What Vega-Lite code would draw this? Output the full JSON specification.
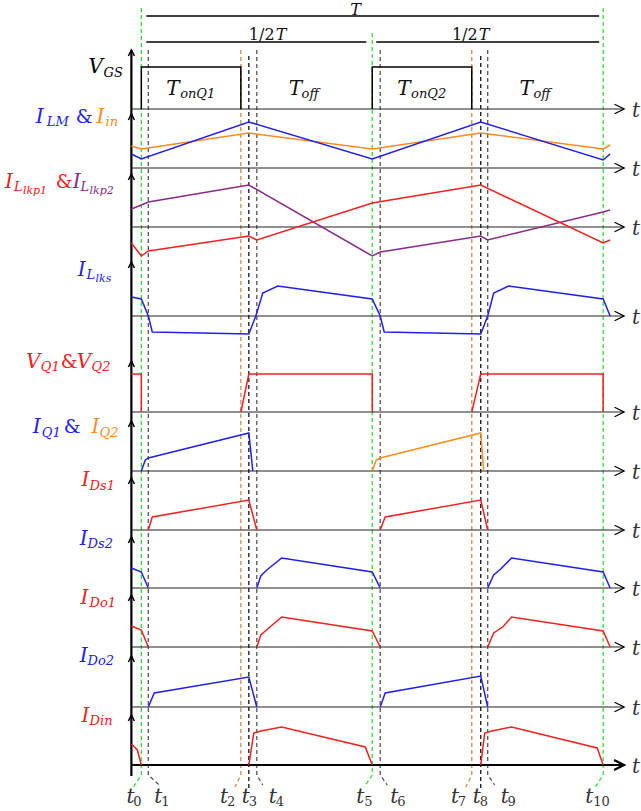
{
  "$schema": "https://vega.github.io/schema/vega-lite/v6.json",
  "width": 641,
  "height": 811,
  "padding": 0,
  "autosize": {"type": "fit", "contains": "padding"},
  "background": "white",
  "config": {"view": {"stroke": null}},
  "datasets": {
    "wave": [
      {"s":"V_GS","seg":"vgs1","i":0,"x":142,"y":109},{"s":"V_GS","seg":"vgs1","i":1,"x":142,"y":67},{"s":"V_GS","seg":"vgs1","i":2,"x":242,"y":67},{"s":"V_GS","seg":"vgs1","i":3,"x":242,"y":109},
      {"s":"V_GS","seg":"vgs2","i":0,"x":374,"y":109},{"s":"V_GS","seg":"vgs2","i":1,"x":374,"y":67},{"s":"V_GS","seg":"vgs2","i":2,"x":474,"y":67},{"s":"V_GS","seg":"vgs2","i":3,"x":474,"y":109},
      {"s":"I_in","seg":"iin","i":0,"x":132,"y":146},{"s":"I_in","seg":"iin","i":1,"x":142,"y":149},{"s":"I_in","seg":"iin","i":2,"x":250,"y":133},{"s":"I_in","seg":"iin","i":3,"x":374,"y":149},{"s":"I_in","seg":"iin","i":4,"x":483,"y":133},{"s":"I_in","seg":"iin","i":5,"x":606,"y":149},{"s":"I_in","seg":"iin","i":6,"x":613,"y":145},
      {"s":"I_LM","seg":"ilm","i":0,"x":132,"y":154},{"s":"I_LM","seg":"ilm","i":1,"x":142,"y":159},{"s":"I_LM","seg":"ilm","i":2,"x":250,"y":122},{"s":"I_LM","seg":"ilm","i":3,"x":374,"y":159},{"s":"I_LM","seg":"ilm","i":4,"x":483,"y":122},{"s":"I_LM","seg":"ilm","i":5,"x":606,"y":160},{"s":"I_LM","seg":"ilm","i":6,"x":613,"y":154},
      {"s":"I_Llkp2","seg":"lkp2","i":0,"x":132,"y":209},{"s":"I_Llkp2","seg":"lkp2","i":1,"x":142,"y":205},{"s":"I_Llkp2","seg":"lkp2","i":2,"x":149,"y":202},{"s":"I_Llkp2","seg":"lkp2","i":3,"x":250,"y":185},{"s":"I_Llkp2","seg":"lkp2","i":4,"x":374,"y":256},{"s":"I_Llkp2","seg":"lkp2","i":5,"x":382,"y":252},{"s":"I_Llkp2","seg":"lkp2","i":6,"x":483,"y":236},{"s":"I_Llkp2","seg":"lkp2","i":7,"x":490,"y":240},{"s":"I_Llkp2","seg":"lkp2","i":8,"x":606,"y":212},{"s":"I_Llkp2","seg":"lkp2","i":9,"x":613,"y":210},
      {"s":"I_Llkp1","seg":"lkp1","i":0,"x":132,"y":243},{"s":"I_Llkp1","seg":"lkp1","i":1,"x":142,"y":256},{"s":"I_Llkp1","seg":"lkp1","i":2,"x":149,"y":251},{"s":"I_Llkp1","seg":"lkp1","i":3,"x":250,"y":236},{"s":"I_Llkp1","seg":"lkp1","i":4,"x":258,"y":240},{"s":"I_Llkp1","seg":"lkp1","i":5,"x":374,"y":203},{"s":"I_Llkp1","seg":"lkp1","i":6,"x":483,"y":185},{"s":"I_Llkp1","seg":"lkp1","i":7,"x":606,"y":243},{"s":"I_Llkp1","seg":"lkp1","i":8,"x":613,"y":240},
      {"s":"I_Llks","seg":"llks","i":0,"x":132,"y":297},{"s":"I_Llks","seg":"llks","i":1,"x":142,"y":299},{"s":"I_Llks","seg":"llks","i":2,"x":149,"y":316},{"s":"I_Llks","seg":"llks","i":3,"x":153,"y":332},{"s":"I_Llks","seg":"llks","i":4,"x":250,"y":334},{"s":"I_Llks","seg":"llks","i":5,"x":257,"y":316},{"s":"I_Llks","seg":"llks","i":6,"x":264,"y":293},{"s":"I_Llks","seg":"llks","i":7,"x":279,"y":286},{"s":"I_Llks","seg":"llks","i":8,"x":374,"y":299},{"s":"I_Llks","seg":"llks","i":9,"x":382,"y":316},{"s":"I_Llks","seg":"llks","i":10,"x":386,"y":332},{"s":"I_Llks","seg":"llks","i":11,"x":483,"y":334},{"s":"I_Llks","seg":"llks","i":12,"x":490,"y":316},{"s":"I_Llks","seg":"llks","i":13,"x":496,"y":293},{"s":"I_Llks","seg":"llks","i":14,"x":511,"y":286},{"s":"I_Llks","seg":"llks","i":15,"x":606,"y":299},{"s":"I_Llks","seg":"llks","i":16,"x":613,"y":316},
      {"s":"V_Q","seg":"vq1","i":0,"x":132,"y":374},{"s":"V_Q","seg":"vq1","i":1,"x":142,"y":374},{"s":"V_Q","seg":"vq1","i":2,"x":142,"y":412},
      {"s":"V_Q","seg":"vq2","i":0,"x":242,"y":412},{"s":"V_Q","seg":"vq2","i":1,"x":250,"y":374},{"s":"V_Q","seg":"vq2","i":2,"x":374,"y":374},{"s":"V_Q","seg":"vq2","i":3,"x":374,"y":412},
      {"s":"V_Q","seg":"vq3","i":0,"x":474,"y":412},{"s":"V_Q","seg":"vq3","i":1,"x":483,"y":374},{"s":"V_Q","seg":"vq3","i":2,"x":606,"y":374},{"s":"V_Q","seg":"vq3","i":3,"x":606,"y":412},
      {"s":"I_Q1","seg":"iq1","i":0,"x":142,"y":471},{"s":"I_Q1","seg":"iq1","i":1,"x":146,"y":460},{"s":"I_Q1","seg":"iq1","i":2,"x":149,"y":458},{"s":"I_Q1","seg":"iq1","i":3,"x":153,"y":457},{"s":"I_Q1","seg":"iq1","i":4,"x":250,"y":433},{"s":"I_Q1","seg":"iq1","i":5,"x":254,"y":471},
      {"s":"I_Q2","seg":"iq2","i":0,"x":374,"y":471},{"s":"I_Q2","seg":"iq2","i":1,"x":378,"y":460},{"s":"I_Q2","seg":"iq2","i":2,"x":382,"y":458},{"s":"I_Q2","seg":"iq2","i":3,"x":386,"y":457},{"s":"I_Q2","seg":"iq2","i":4,"x":483,"y":433},{"s":"I_Q2","seg":"iq2","i":5,"x":486,"y":471},
      {"s":"I_Ds1","seg":"ds1a","i":0,"x":149,"y":530},{"s":"I_Ds1","seg":"ds1a","i":1,"x":153,"y":517},{"s":"I_Ds1","seg":"ds1a","i":2,"x":250,"y":500},{"s":"I_Ds1","seg":"ds1a","i":3,"x":258,"y":530},
      {"s":"I_Ds1","seg":"ds1b","i":0,"x":382,"y":530},{"s":"I_Ds1","seg":"ds1b","i":1,"x":387,"y":517},{"s":"I_Ds1","seg":"ds1b","i":2,"x":483,"y":500},{"s":"I_Ds1","seg":"ds1b","i":3,"x":490,"y":530},
      {"s":"I_Ds2","seg":"ds2a","i":0,"x":132,"y":568},{"s":"I_Ds2","seg":"ds2a","i":1,"x":142,"y":572},{"s":"I_Ds2","seg":"ds2a","i":2,"x":149,"y":588},
      {"s":"I_Ds2","seg":"ds2b","i":0,"x":258,"y":588},{"s":"I_Ds2","seg":"ds2b","i":1,"x":262,"y":576},{"s":"I_Ds2","seg":"ds2b","i":2,"x":268,"y":570},{"s":"I_Ds2","seg":"ds2b","i":3,"x":283,"y":558},{"s":"I_Ds2","seg":"ds2b","i":4,"x":374,"y":572},{"s":"I_Ds2","seg":"ds2b","i":5,"x":382,"y":588},
      {"s":"I_Ds2","seg":"ds2c","i":0,"x":490,"y":588},{"s":"I_Ds2","seg":"ds2c","i":1,"x":496,"y":575},{"s":"I_Ds2","seg":"ds2c","i":2,"x":503,"y":569},{"s":"I_Ds2","seg":"ds2c","i":3,"x":514,"y":558},{"s":"I_Ds2","seg":"ds2c","i":4,"x":606,"y":572},{"s":"I_Ds2","seg":"ds2c","i":5,"x":613,"y":588},
      {"s":"I_Do1","seg":"do1a","i":0,"x":132,"y":626},{"s":"I_Do1","seg":"do1a","i":1,"x":142,"y":630},{"s":"I_Do1","seg":"do1a","i":2,"x":149,"y":647},
      {"s":"I_Do1","seg":"do1b","i":0,"x":258,"y":647},{"s":"I_Do1","seg":"do1b","i":1,"x":262,"y":635},{"s":"I_Do1","seg":"do1b","i":2,"x":270,"y":628},{"s":"I_Do1","seg":"do1b","i":3,"x":283,"y":617},{"s":"I_Do1","seg":"do1b","i":4,"x":374,"y":631},{"s":"I_Do1","seg":"do1b","i":5,"x":382,"y":647},
      {"s":"I_Do1","seg":"do1c","i":0,"x":490,"y":647},{"s":"I_Do1","seg":"do1c","i":1,"x":496,"y":633},{"s":"I_Do1","seg":"do1c","i":2,"x":505,"y":627},{"s":"I_Do1","seg":"do1c","i":3,"x":514,"y":617},{"s":"I_Do1","seg":"do1c","i":4,"x":606,"y":631},{"s":"I_Do1","seg":"do1c","i":5,"x":613,"y":647},
      {"s":"I_Do2","seg":"do2a","i":0,"x":149,"y":707},{"s":"I_Do2","seg":"do2a","i":1,"x":155,"y":693},{"s":"I_Do2","seg":"do2a","i":2,"x":250,"y":677},{"s":"I_Do2","seg":"do2a","i":3,"x":258,"y":707},
      {"s":"I_Do2","seg":"do2b","i":0,"x":382,"y":707},{"s":"I_Do2","seg":"do2b","i":1,"x":387,"y":693},{"s":"I_Do2","seg":"do2b","i":2,"x":483,"y":676},{"s":"I_Do2","seg":"do2b","i":3,"x":490,"y":707},
      {"s":"I_Din","seg":"dina","i":0,"x":132,"y":744},{"s":"I_Din","seg":"dina","i":1,"x":138,"y":750},{"s":"I_Din","seg":"dina","i":2,"x":142,"y":765},
      {"s":"I_Din","seg":"dinb","i":0,"x":250,"y":765},{"s":"I_Din","seg":"dinb","i":1,"x":255,"y":733},{"s":"I_Din","seg":"dinb","i":2,"x":262,"y":731},{"s":"I_Din","seg":"dinb","i":3,"x":283,"y":727},{"s":"I_Din","seg":"dinb","i":4,"x":367,"y":747},{"s":"I_Din","seg":"dinb","i":5,"x":374,"y":765},
      {"s":"I_Din","seg":"dinc","i":0,"x":483,"y":765},{"s":"I_Din","seg":"dinc","i":1,"x":487,"y":733},{"s":"I_Din","seg":"dinc","i":2,"x":494,"y":731},{"s":"I_Din","seg":"dinc","i":3,"x":514,"y":727},{"s":"I_Din","seg":"dinc","i":4,"x":600,"y":748},{"s":"I_Din","seg":"dinc","i":5,"x":606,"y":765}
    ],
    "markers": [
      {"name":"t0","kind":"m_green","i":0,"x":142,"y":8},{"name":"t0","kind":"m_green","i":1,"x":142,"y":775},{"name":"t0","kind":"m_green","i":2,"x":134,"y":787},
      {"name":"t1","kind":"m_gray","i":0,"x":149,"y":50},{"name":"t1","kind":"m_gray","i":1,"x":149,"y":775},{"name":"t1","kind":"m_gray","i":2,"x":160,"y":785},
      {"name":"t2","kind":"m_orange","i":0,"x":242,"y":50},{"name":"t2","kind":"m_orange","i":1,"x":242,"y":775},{"name":"t2","kind":"m_orange","i":2,"x":236,"y":787},
      {"name":"t3","kind":"m_black","i":0,"x":250,"y":56},{"name":"t3","kind":"m_black","i":1,"x":250,"y":790},
      {"name":"t4","kind":"m_gray","i":0,"x":258,"y":50},{"name":"t4","kind":"m_gray","i":1,"x":258,"y":775},{"name":"t4","kind":"m_gray","i":2,"x":264,"y":785},
      {"name":"t5","kind":"m_green","i":0,"x":374,"y":33},{"name":"t5","kind":"m_green","i":1,"x":374,"y":775},{"name":"t5","kind":"m_green","i":2,"x":366,"y":787},
      {"name":"t6","kind":"m_gray","i":0,"x":382,"y":50},{"name":"t6","kind":"m_gray","i":1,"x":382,"y":775},{"name":"t6","kind":"m_gray","i":2,"x":389,"y":785},
      {"name":"t7","kind":"m_orange","i":0,"x":474,"y":50},{"name":"t7","kind":"m_orange","i":1,"x":474,"y":775},{"name":"t7","kind":"m_orange","i":2,"x":468,"y":787},
      {"name":"t8","kind":"m_black","i":0,"x":483,"y":56},{"name":"t8","kind":"m_black","i":1,"x":483,"y":790},
      {"name":"t9","kind":"m_gray","i":0,"x":490,"y":50},{"name":"t9","kind":"m_gray","i":1,"x":490,"y":775},{"name":"t9","kind":"m_gray","i":2,"x":497,"y":785},
      {"name":"t10","kind":"m_green","i":0,"x":606,"y":8},{"name":"t10","kind":"m_green","i":1,"x":606,"y":775},{"name":"t10","kind":"m_green","i":2,"x":598,"y":787}
    ],
    "baselines": [
      {"y":109,"x":132,"x2":627},{"y":168,"x":132,"x2":627},{"y":227,"x":132,"x2":627},{"y":316,"x":132,"x2":627},{"y":412,"x":132,"x2":627},{"y":471,"x":132,"x2":627},{"y":530,"x":132,"x2":627},{"y":588,"x":132,"x2":627},{"y":647,"x":132,"x2":627},{"y":707,"x":132,"x2":627}
    ],
    "bottom": [{"y":765,"x":132,"x2":627}],
    "vaxis": [{"x":132,"y":50,"y2":776}],
    "vtips": [
      {"x":132,"y":50},{"x":132,"y":114},{"x":132,"y":174},{"x":132,"y":262},{"x":132,"y":361},{"x":132,"y":421},{"x":132,"y":478},{"x":132,"y":537},{"x":132,"y":595},{"x":132,"y":656},{"x":132,"y":715}
    ],
    "periods": [
      {"x":147,"x2":602,"y":16},{"x":147,"x2":368,"y":42},{"x":378,"x2":602,"y":42}
    ],
    "italic": [
      {"txt":"V","x":89,"y":73,"s":"V_GS","k":"main"},{"txt":"GS","x":104,"y":77,"s":"V_GS","k":"sub"},
      {"txt":"I","x":36,"y":123,"s":"I_LM","k":"main"},{"txt":"LM","x":47,"y":126,"s":"I_LM","k":"sub"},{"txt":"I","x":97,"y":123,"s":"I_in","k":"main"},{"txt":"in","x":106,"y":126,"s":"I_in","k":"sub"},
      {"txt":"I","x":5,"y":188,"s":"I_Llkp1","k":"main"},{"txt":"L","x":14,"y":191,"s":"I_Llkp1","k":"sub"},{"txt":"lkp1","x":23,"y":194,"s":"I_Llkp1","k":"subsub"},
      {"txt":"I","x":73,"y":188,"s":"I_Llkp2","k":"main"},{"txt":"L","x":81,"y":191,"s":"I_Llkp2","k":"sub"},{"txt":"lkp2","x":90,"y":194,"s":"I_Llkp2","k":"subsub"},
      {"txt":"I","x":78,"y":276,"s":"I_Llks","k":"main"},{"txt":"L","x":87,"y":279,"s":"I_Llks","k":"sub"},{"txt":"lks","x":96,"y":282,"s":"I_Llks","k":"subsub"},
      {"txt":"V","x":26,"y":368,"s":"V_Q","k":"main"},{"txt":"Q1","x":41,"y":371,"s":"V_Q","k":"sub"},{"txt":"V","x":77,"y":368,"s":"V_Q","k":"main"},{"txt":"Q2","x":92,"y":371,"s":"V_Q","k":"sub"},
      {"txt":"I","x":33,"y":433,"s":"I_Q1","k":"main"},{"txt":"Q1","x":42,"y":437,"s":"I_Q1","k":"sub"},{"txt":"I","x":92,"y":433,"s":"I_Q2","k":"main"},{"txt":"Q2","x":100,"y":437,"s":"I_Q2","k":"sub"},
      {"txt":"I","x":82,"y":486,"s":"I_Ds1","k":"main"},{"txt":"Ds1","x":90,"y":490,"s":"I_Ds1","k":"sub"},
      {"txt":"I","x":80,"y":545,"s":"I_Ds2","k":"main"},{"txt":"Ds2","x":88,"y":548,"s":"I_Ds2","k":"sub"},
      {"txt":"I","x":81,"y":604,"s":"I_Do1","k":"main"},{"txt":"Do1","x":90,"y":607,"s":"I_Do1","k":"sub"},
      {"txt":"I","x":80,"y":662,"s":"I_Do2","k":"main"},{"txt":"Do2","x":88,"y":665,"s":"I_Do2","k":"sub"},
      {"txt":"I","x":82,"y":722,"s":"I_Din","k":"main"},{"txt":"Din","x":90,"y":725,"s":"I_Din","k":"sub"},
      {"txt":"T","x":167,"y":95,"s":"axis","k":"main"},{"txt":"onQ1","x":181,"y":98,"s":"axis","k":"sub"},
      {"txt":"T","x":290,"y":95,"s":"axis","k":"main"},{"txt":"off","x":303,"y":98,"s":"axis","k":"sub"},
      {"txt":"T","x":399,"y":95,"s":"axis","k":"main"},{"txt":"onQ2","x":413,"y":98,"s":"axis","k":"sub"},
      {"txt":"T","x":522,"y":95,"s":"axis","k":"main"},{"txt":"off","x":536,"y":98,"s":"axis","k":"sub"},
      {"txt":"T","x":352,"y":15,"s":"axis","k":"top"},{"txt":"T","x":277,"y":40,"s":"axis","k":"top"},{"txt":"T","x":481,"y":40,"s":"axis","k":"top"},
      {"txt":"t","x":127,"y":803,"s":"tlabel","k":"main"},{"txt":"t","x":155,"y":803,"s":"tlabel","k":"main"},{"txt":"t","x":221,"y":803,"s":"tlabel","k":"main"},{"txt":"t","x":243,"y":803,"s":"tlabel","k":"main"},{"txt":"t","x":270,"y":803,"s":"tlabel","k":"main"},{"txt":"t","x":358,"y":803,"s":"tlabel","k":"main"},{"txt":"t","x":392,"y":803,"s":"tlabel","k":"main"},{"txt":"t","x":453,"y":803,"s":"tlabel","k":"main"},{"txt":"t","x":475,"y":803,"s":"tlabel","k":"main"},{"txt":"t","x":503,"y":803,"s":"tlabel","k":"main"},{"txt":"t","x":588,"y":803,"s":"tlabel","k":"main"},
      {"txt":"t","x":635,"y":117,"s":"tlabel","k":"main"},{"txt":"t","x":635,"y":176,"s":"tlabel","k":"main"},{"txt":"t","x":635,"y":235,"s":"tlabel","k":"main"},{"txt":"t","x":635,"y":324,"s":"tlabel","k":"main"},{"txt":"t","x":635,"y":420,"s":"tlabel","k":"main"},{"txt":"t","x":635,"y":479,"s":"tlabel","k":"main"},{"txt":"t","x":635,"y":538,"s":"tlabel","k":"main"},{"txt":"t","x":635,"y":596,"s":"tlabel","k":"main"},{"txt":"t","x":635,"y":655,"s":"tlabel","k":"main"},{"txt":"t","x":635,"y":715,"s":"tlabel","k":"main"},{"txt":"t","x":635,"y":773,"s":"tlabel","k":"main"}
    ],
    "upright": [
      {"txt":"&","x":76,"y":123,"s":"I_LM","k":"main"},
      {"txt":"&","x":56,"y":188,"s":"I_Llkp1","k":"main"},
      {"txt":"&","x":61,"y":368,"s":"V_Q","k":"main"},
      {"txt":"&","x":64,"y":433,"s":"I_Q1","k":"main"},
      {"txt":"1/2","x":250,"y":40,"s":"axis","k":"top"},{"txt":"1/2","x":454,"y":40,"s":"axis","k":"top"},
      {"txt":"0","x":134,"y":806,"s":"tlabel","k":"sub"},{"txt":"1","x":162,"y":806,"s":"tlabel","k":"sub"},{"txt":"2","x":228,"y":806,"s":"tlabel","k":"sub"},{"txt":"3","x":250,"y":806,"s":"tlabel","k":"sub"},{"txt":"4","x":277,"y":806,"s":"tlabel","k":"sub"},{"txt":"5","x":366,"y":806,"s":"tlabel","k":"sub"},{"txt":"6","x":399,"y":806,"s":"tlabel","k":"sub"},{"txt":"7","x":460,"y":806,"s":"tlabel","k":"sub"},{"txt":"8","x":482,"y":806,"s":"tlabel","k":"sub"},{"txt":"9","x":510,"y":806,"s":"tlabel","k":"sub"},{"txt":"10","x":596,"y":806,"s":"tlabel","k":"sub"}
    ]
  },
  "encoding": {
    "x": {"field": "x", "type": "quantitative", "scale": {"domain": [0, 641], "nice": false, "zero": false}, "axis": null},
    "y": {"field": "y", "type": "quantitative", "scale": {"domain": [811, 0], "nice": false, "zero": false}, "axis": null},
    "color": {"field": "s", "type": "nominal", "legend": null, "scale": {"domain": ["V_GS", "I_LM", "I_in", "I_Llkp1", "I_Llkp2", "I_Llks", "V_Q", "I_Q1", "I_Q2", "I_Ds1", "I_Ds2", "I_Do1", "I_Do2", "I_Din", "axis", "tlabel"], "range": ["#000000", "#2020ee", "#ff8a1e", "#f42020", "#8a2a8a", "#2020ee", "#f42020", "#2020ee", "#ff8a1e", "#f42020", "#2020ee", "#f42020", "#2020ee", "#f42020", "#111111", "#333333"]}}
  },
  "layer": [
    {
      "data": {"name": "markers"},
      "mark": {"type": "line", "strokeDash": [4, 3], "interpolate": "linear"},
      "encoding": {
        "color": null,
        "detail": {"field": "name"},
        "order": {"field": "i", "type": "quantitative"},
        "stroke": {"field": "kind", "type": "nominal", "legend": null, "scale": {"domain": ["m_green", "m_orange", "m_black", "m_gray"], "range": ["#33dd33", "#cc8a4c", "#111111", "#555555"]}},
        "strokeWidth": {"field": "kind", "type": "nominal", "legend": null, "scale": {"domain": ["m_green", "m_orange", "m_black", "m_gray"], "range": [1.3, 1.3, 1.8, 1.1]}}
      }
    },
    {
      "data": {"name": "periods"},
      "mark": {"type": "rule", "color": "black", "strokeWidth": 1.6},
      "encoding": {"color": null, "x2": {"field": "x2"}}
    },
    {
      "data": {"name": "baselines"},
      "mark": {"type": "rule", "color": "#222222", "strokeWidth": 1.2},
      "encoding": {"color": null, "x2": {"field": "x2"}}
    },
    {
      "data": {"name": "bottom"},
      "mark": {"type": "rule", "color": "black", "strokeWidth": 2.2},
      "encoding": {"color": null, "x2": {"field": "x2"}}
    },
    {
      "data": {"name": "baselines"},
      "mark": {"type": "point", "shape": "M -2 -1 L 0 0 L -2 1", "filled": false, "size": 90, "color": "black", "strokeWidth": 1.3, "opacity": 1},
      "encoding": {"color": null, "x": {"field": "x2", "type": "quantitative"}}
    },
    {
      "data": {"name": "bottom"},
      "mark": {"type": "point", "shape": "M -2 -1 L 0 0 L -2 1", "filled": false, "size": 100, "color": "black", "strokeWidth": 2.2, "opacity": 1},
      "encoding": {"color": null, "x": {"field": "x2", "type": "quantitative"}}
    },
    {
      "data": {"name": "vaxis"},
      "mark": {"type": "rule", "color": "black", "strokeWidth": 2.2},
      "encoding": {"color": null, "y2": {"field": "y2"}}
    },
    {
      "data": {"name": "vtips"},
      "mark": {"type": "point", "shape": "M -1 2 L 0 0 L 1 2", "filled": false, "size": 36, "color": "black", "strokeWidth": 1.5, "opacity": 1},
      "encoding": {"color": null}
    },
    {
      "data": {"name": "wave"},
      "mark": {"type": "line", "strokeWidth": 1.5, "interpolate": "linear"},
      "encoding": {
        "detail": {"field": "seg"},
        "order": {"field": "i", "type": "quantitative"}
      }
    },
    {
      "data": {"name": "italic"},
      "transform": [{"filter": "datum.k === 'main'"}],
      "mark": {"type": "text", "align": "left", "baseline": "alphabetic", "font": "DejaVu Serif", "fontStyle": "italic", "fontSize": 20},
      "encoding": {"text": {"field": "txt"}}
    },
    {
      "data": {"name": "italic"},
      "transform": [{"filter": "datum.k === 'sub'"}],
      "mark": {"type": "text", "align": "left", "baseline": "alphabetic", "font": "DejaVu Serif", "fontStyle": "italic", "fontSize": 13},
      "encoding": {"text": {"field": "txt"}}
    },
    {
      "data": {"name": "italic"},
      "transform": [{"filter": "datum.k === 'subsub'"}],
      "mark": {"type": "text", "align": "left", "baseline": "alphabetic", "font": "DejaVu Serif", "fontStyle": "italic", "fontSize": 11},
      "encoding": {"text": {"field": "txt"}}
    },
    {
      "data": {"name": "italic"},
      "transform": [{"filter": "datum.k === 'top'"}],
      "mark": {"type": "text", "align": "left", "baseline": "alphabetic", "font": "DejaVu Serif", "fontStyle": "italic", "fontSize": 16},
      "encoding": {"text": {"field": "txt"}}
    },
    {
      "data": {"name": "upright"},
      "transform": [{"filter": "datum.k === 'main'"}],
      "mark": {"type": "text", "align": "left", "baseline": "alphabetic", "font": "DejaVu Serif", "fontSize": 19},
      "encoding": {"text": {"field": "txt"}}
    },
    {
      "data": {"name": "upright"},
      "transform": [{"filter": "datum.k === 'sub'"}],
      "mark": {"type": "text", "align": "left", "baseline": "alphabetic", "font": "DejaVu Serif", "fontSize": 13},
      "encoding": {"text": {"field": "txt"}}
    },
    {
      "data": {"name": "upright"},
      "transform": [{"filter": "datum.k === 'top'"}],
      "mark": {"type": "text", "align": "left", "baseline": "alphabetic", "font": "DejaVu Serif", "fontSize": 16},
      "encoding": {"text": {"field": "txt"}}
    }
  ]
}
